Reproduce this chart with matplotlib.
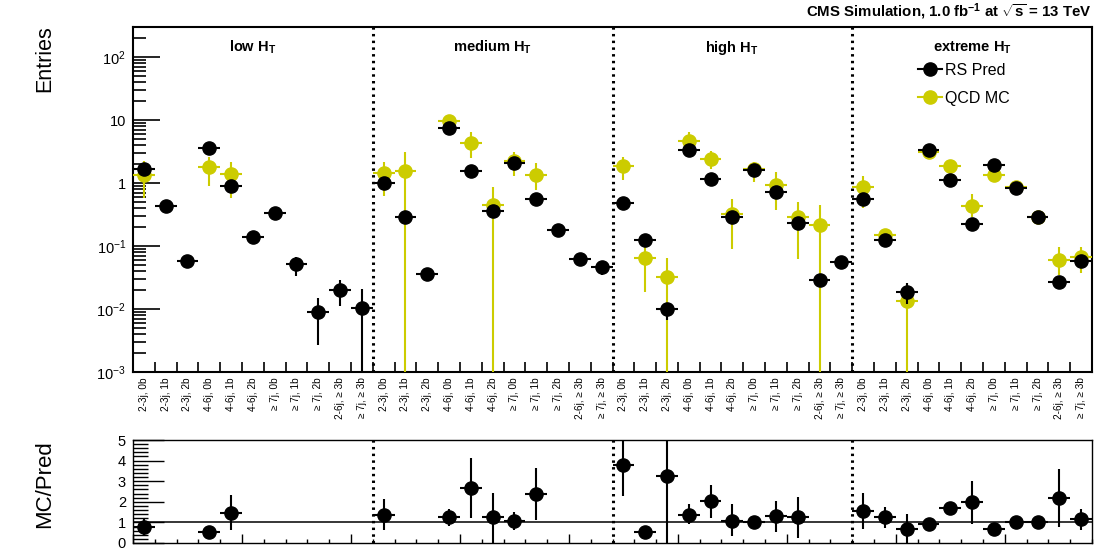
import numpy as np
import matplotlib
matplotlib.use('Agg')
import matplotlib.pyplot as plt
from matplotlib.ticker import FixedLocator, NullFormatter, FuncFormatter, MultipleLocator, LogLocator, NullLocator
from matplotlib.lines import Line2D

plt.rcParams['font.family'] = ['Liberation Sans', 'DejaVu Sans']
plt.rcParams['mathtext.fontset'] = 'custom'
plt.rcParams['mathtext.rm'] = 'Liberation Sans'
plt.rcParams['mathtext.it'] = 'Liberation Sans:italic'
plt.rcParams['mathtext.bf'] = 'Liberation Sans:bold'
plt.rcParams['mathtext.sf'] = 'Liberation Sans'

nan = np.nan

# ---------------- data ----------------
regions = ['low', 'medium', 'high', 'extreme']
bin_labels = ['2-3j, 0b', '2-3j, 1b', '2-3j, 2b', '4-6j, 0b', '4-6j, 1b', '4-6j, 2b',
              '\u2265 7j, 0b', '\u2265 7j, 1b', '\u2265 7j, 2b', '2-6j, \u2265 3b', '\u2265 7j, \u2265 3b']
categories = bin_labels * len(regions)

pred = [1.67, 0.43, 0.058, 3.6, 0.91, 0.137, 0.33, 0.051, 0.0090, 0.020, 0.0103,
        1.0, 0.285, 0.0355, 7.55, 1.57, 0.363, 2.1, 0.56, 0.18, 0.062, 0.047,
        0.49, 0.125, 0.010, 3.34, 1.17, 0.29, 1.59, 0.71, 0.229, 0.0285, 0.0563,
        0.557, 0.125, 0.0188, 3.34, 1.12, 0.221, 1.91, 0.84, 0.285, 0.027, 0.0585]
pred_err_lo = [0.2, 0.05, 0.012, 0.4, 0.2, 0.015, 0.04, 0.018, 0.0063, 0.009, 0.0103,
               0.12, 0.04, 0.008, 0.6, 0.15, 0.05, 0.2, 0.06, 0.02, 0.009, 0.012,
               0.05, 0.015, 0.0033, 0.3, 0.12, 0.03, 0.15, 0.07, 0.025, 0.004, 0.006,
               0.06, 0.015, 0.0068, 0.3, 0.1, 0.02, 0.15, 0.07, 0.025, 0.003, 0.006]
pred_err_hi = [0.2, 0.05, 0.012, 0.4, 0.2, 0.015, 0.04, 0.017, 0.006, 0.009, 0.0104,
               0.12, 0.04, 0.006, 0.6, 0.15, 0.05, 0.2, 0.06, 0.02, 0.008, 0.008,
               0.05, 0.015, 0.002, 0.3, 0.12, 0.03, 0.15, 0.07, 0.025, 0.004, 0.006,
               0.06, 0.015, 0.0072, 0.3, 0.1, 0.02, 0.15, 0.07, 0.025, 0.003, 0.006]

mc = [1.34, nan, nan, 1.8, 1.37, nan, nan, nan, nan, nan, nan,
      1.43, 1.55, nan, 9.7, 4.27, 0.45, 2.23, 1.34, nan, nan, nan,
      1.88, 0.065, 0.0326, 4.7, 2.38, 0.32, 1.7, 0.93, 0.285, 0.218, nan,
      0.855, 0.15, 0.0134, 3.07, 1.86, 0.43, 1.34, 0.86, 0.29, 0.06, 0.068]
mc_low = [0.58, nan, nan, 0.9, 0.58, nan, nan, nan, nan, nan, nan,
          0.63, 0.0, nan, 8.0, 2.5, 0.0, 1.29, 0.77, nan, nan, nan,
          1.12, 0.0188, 0.0, 4.0, 1.7, 0.09, 1.05, 0.38, 0.062, 0.0, nan,
          0.40, 0.12, 0.0, 2.7, 1.6, 0.29, 1.15, 0.75, 0.25, 0.0346, 0.037]
mc_high = [2.2, nan, nan, 2.6, 2.15, nan, nan, nan, nan, nan, nan,
           2.15, 3.07, nan, 12.2, 6.45, 0.87, 3.14, 2.05, nan, nan, nan,
           2.56, 0.097, 0.0636, 6.4, 3.2, 0.55, 2.13, 1.48, 0.5, 0.44, nan,
           1.29, 0.184, 0.026, 3.5, 2.15, 0.66, 1.55, 0.98, 0.33, 0.097, 0.097]

ratio = [0.78, nan, nan, 0.51, 1.46, nan, nan, nan, nan, nan, nan,
         1.38, nan, nan, 1.25, 2.68, 1.24, 1.07, 2.38, nan, nan, nan,
         3.79, 0.54, 3.25, 1.38, 2.03, 1.07, 1.01, 1.30, 1.27, nan, nan,
         1.56, 1.24, 0.70, 0.91, 1.68, 1.97, 0.70, 1.02, 1.02, 2.2, 1.16]
ratio_low = [0.38, nan, nan, 0.40, 0.62, nan, nan, nan, nan, nan, nan,
             0.62, nan, nan, 0.83, 1.22, 0.0, 0.65, 1.11, nan, nan, nan,
             2.28, 0.45, 0.0, 0.9, 1.22, 0.33, 0.9, 0.54, 0.24, nan, nan,
             0.70, 0.73, 0.0, 0.8, 1.5, 0.91, 0.6, 0.94, 0.94, 0.78, 0.65]
ratio_high = [1.16, nan, nan, 0.62, 2.33, nan, nan, nan, nan, nan, nan,
              2.13, nan, nan, 1.67, 4.13, 2.44, 1.51, 3.63, nan, nan, nan,
              5.5, 0.63, 6.0, 1.87, 2.8, 1.87, 1.12, 2.03, 2.24, nan, nan,
              2.41, 1.75, 1.43, 1.0, 1.85, 3.0, 0.8, 1.1, 1.1, 3.6, 1.64]

# ---------------- figure ----------------
W, H = 1096, 550
fig = plt.figure(figsize=(W / 100, H / 100), dpi=100)

def fx(px):
    return px / W

def fy(py):
    return 1 - py / H

L, R = 133, 1092
ax = fig.add_axes([fx(L), fy(372), fx(R - L), (372 - 27) / H])
axr = fig.add_axes([fx(L), fy(543), fx(R - L), (543 - 440) / H])

nb = len(categories)
x = np.arange(nb) + 0.5
yellow = '#cccc00'

pred_a = np.array(pred)
mc_a = np.array(mc)
mc_el = mc_a - np.array(mc_low)
mc_eh = np.array(mc_high) - mc_a

ax.set_yscale('log', nonpositive='clip')
ax.errorbar(x, mc_a, xerr=0.5, yerr=[mc_el, mc_eh], fmt='o', color=yellow,
            ms=9.5, lw=1.5, capsize=0, zorder=3)
ax.errorbar(x, pred_a, xerr=0.5, yerr=[pred_err_lo, pred_err_hi], fmt='o', color='black',
            ms=9.5, lw=1.5, capsize=0, zorder=4)

ax.set_xlim(0, nb)
ax.set_ylim(1e-3, 300)

# x ticks: edges with ticks, centers with labels
ax.xaxis.set_major_locator(FixedLocator(np.arange(1, nb)))
ax.xaxis.set_major_formatter(NullFormatter())
ax.set_xticks(x, minor=True)
ax.set_xticklabels(categories, minor=True, rotation=90, fontsize=7.2, va='top', ha='center')
ax.tick_params(axis='x', which='major', direction='in', length=7.5, width=1.2, top=False)
ax.tick_params(axis='x', which='minor', length=0, pad=4)

ax.yaxis.set_major_locator(LogLocator(base=10, numticks=10))
ax.yaxis.set_minor_locator(LogLocator(base=10, subs=np.arange(2, 10), numticks=20))
ax.yaxis.set_minor_formatter(NullFormatter())

def logfmt(v, pos):
    e = int(round(np.log10(v)))
    if e == 0:
        return '1'
    if e == 1:
        return '10'
    return r'$10^{%d}$' % e

ax.yaxis.set_major_formatter(FuncFormatter(logfmt))
ax.tick_params(axis='y', which='major', direction='in', length=19.5, width=1.2, labelsize=10.5, pad=5)
ax.tick_params(axis='y', which='minor', direction='in', length=9.5, width=1.2)
for s in ax.spines.values():
    s.set_linewidth(1.5)

for k in range(1, len(regions)):
    ax.axvline(11 * k, color='black', lw=2.2, ls=(0, (0.8, 1.4)), zorder=2)
    axr.axvline(11 * k, color='black', lw=2.2, ls=(0, (0.8, 1.4)), zorder=2)

for k, rname in enumerate(regions):
    ax.text(11 * k + 5.5, 0.94, rname + r' H$_{\mathbf{T}}$', transform=ax.get_xaxis_transform(),
            ha='center', va='center', fontsize=10.5, fontweight='bold')

handles = [Line2D([], [], color='black', marker='o', ms=9.5, lw=1.5),
           Line2D([], [], color=yellow, marker='o', ms=9.5, lw=1.5)]
ax.legend(handles, ['RS Pred', 'QCD MC'], loc='upper left', bbox_to_anchor=(0.8186, 0.897),
          frameon=False, borderpad=0, borderaxespad=0, handlelength=1.5, handletextpad=0.2,
          labelspacing=0.82, fontsize=11.5)

# ratio panel
ratio_a = np.array(ratio)
r_el = ratio_a - np.array(ratio_low)
r_eh = np.array(ratio_high) - ratio_a
axr.axhline(1.0, color='black', lw=1.1, zorder=2)
axr.errorbar(x, ratio_a, xerr=0.5, yerr=[r_el, r_eh], fmt='o', color='black',
             ms=9.5, lw=1.5, capsize=0, zorder=4)
axr.set_xlim(0, nb)
axr.set_ylim(0, 5)
axr.xaxis.set_major_locator(MultipleLocator(5))
axr.xaxis.set_minor_locator(MultipleLocator(1))
axr.xaxis.set_major_formatter(NullFormatter())
axr.tick_params(axis='x', which='major', direction='in', length=6.5, width=1.0)
axr.tick_params(axis='x', which='minor', direction='in', length=3, width=1.0)
axr.yaxis.set_major_locator(MultipleLocator(1))
axr.yaxis.set_minor_locator(MultipleLocator(0.2))
axr.tick_params(axis='y', which='major', direction='in', length=22, width=1.0, labelsize=10.5, pad=5)
axr.tick_params(axis='y', which='minor', direction='in', length=11, width=1.0)
for s in axr.spines.values():
    s.set_linewidth(1.0)

fig.text(fx(45), fy(25), 'Entries', rotation=90, ha='center', va='top', fontsize=15.5)
fig.text(fx(45), fy(440), 'MC/Pred', rotation=90, ha='center', va='top', fontsize=16)
fig.text(fx(1092), fy(12), r'CMS Simulation, 1.0 fb$^{\mathbf{-1}}$ at $\sqrt{\mathbf{s}}$ = 13 TeV',
         ha='right', va='center', fontsize=10.8, fontweight='bold')

fig.savefig('out.png', dpi=100)
